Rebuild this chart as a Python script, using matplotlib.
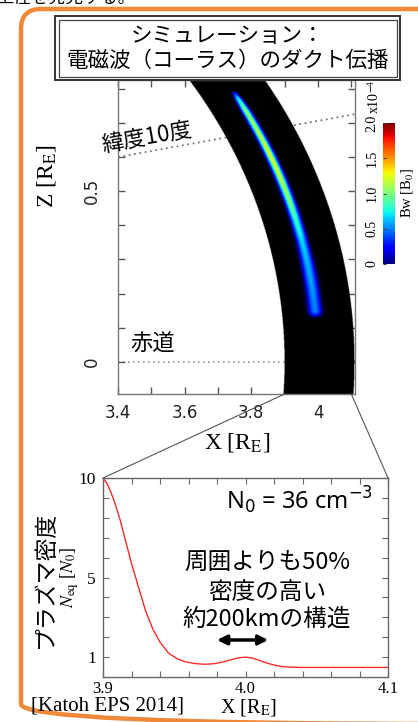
import numpy as np
import matplotlib
matplotlib.use('Agg')
import matplotlib.pyplot as plt
from matplotlib.patches import Rectangle, FancyBboxPatch, ConnectionPatch
from matplotlib.colors import Normalize
from matplotlib.cm import ScalarMappable
from matplotlib.ticker import MultipleLocator

# ---------------- data ----------------
duct_L_inner = 3.9
duct_L_outer = 4.11
wave_L_center = 4.0
wave_lat_deg = [1.8, 2.1, 3.0, 4.0, 5.0, 6.0, 7.0, 8.0, 9.0, 10.0, 11.0, 11.6, 12.0]
wave_amp = [0.0, 0.5, 0.55, 0.6, 0.68, 0.85, 1.05, 1.2, 1.25, 1.15, 1.05, 0.75, 0.0]   # x1e-4 B0
wave_halfwidth = [0.019, 0.019, 0.018, 0.017, 0.015, 0.014, 0.013, 0.0125, 0.012, 0.0115, 0.011, 0.009, 0.007]
latitude_line_deg = 10.0

top_xlim = (3.4, 4.111)
top_ylim = (-0.094, 0.825)
top_xticks = [3.4, 3.6, 3.8, 4.0]
top_xticklabels = ['3.4', '3.6', '3.8', '4']
top_yticks = [0.0, 0.5]
top_yticklabels = ['0', '0.5']

cbar_range = (0.0, 2.0)
cbar_ticks = [0.0, 0.5, 1.0, 1.5, 2.0]
cbar_ticklabels = ['0', '0.5', '1.0', '1.5', '2.0']

density_x = [3.900, 3.903, 3.906, 3.909, 3.912, 3.916, 3.920, 3.925, 3.930, 3.935,
             3.940, 3.946, 3.952, 3.958, 3.965, 3.972, 3.978, 3.984, 3.990, 3.995,
             4.000, 4.005, 4.010, 4.015, 4.020, 4.025, 4.030, 4.040, 4.060, 4.080, 4.100]
density_y = [10.0, 9.7, 9.2, 8.6, 7.9, 6.8, 5.7, 4.5, 3.3, 2.4,
             1.75, 1.2, 0.92, 0.76, 0.67, 0.64, 0.67, 0.75, 0.87, 0.96,
             1.0, 0.95, 0.83, 0.7, 0.6, 0.53, 0.5, 0.48, 0.48, 0.48, 0.48]
bottom_xticks = [3.9, 4.0, 4.1]
bottom_xticklabels = ['3.9', '4.0', '4.1']
bottom_yticks = [1, 5, 10]
bottom_yticklabels = ['1', '5', '10']
arrow_x = [3.98, 4.016]
arrow_y = 1.86

jp = ['Noto Sans CJK JP', 'DejaVu Sans']
serif = 'Liberation Serif'

W, H = 418, 722
fig = plt.figure(figsize=(W / 100, H / 100), dpi=100)
fig.patch.set_facecolor('white')


def rect(l, t, r, b):
    return [l / W, 1 - b / H, (r - l) / W, (b - t) / H]


# ---------------- top panel ----------------
ax1 = fig.add_axes(rect(118, 80, 355, 394))
ax1.set_xlim(*top_xlim)
ax1.set_ylim(*top_ylim)

nx, nz = 700, 900
xs = np.linspace(top_xlim[0], top_xlim[1], nx)
zs = np.linspace(top_ylim[0], top_ylim[1], nz)
X, Z = np.meshgrid(xs, zs)
lam = np.arctan2(Z, X)
Lval = np.hypot(X, Z) / np.cos(lam) ** 2
latd = np.degrees(lam)
amp = np.interp(latd, wave_lat_deg, wave_amp, left=0, right=0)
wid = np.interp(latd, wave_lat_deg, wave_halfwidth)
A = amp * np.exp(-((Lval - wave_L_center) / wid) ** 2)
cmap = plt.get_cmap('jet')
norm = Normalize(*cbar_range)
rgba = cmap(norm(A))
f = np.clip(A / 0.25, 0, 1)[..., None]
rgba[..., :3] = rgba[..., :3] * f
rgba[..., 3] = ((Lval >= duct_L_inner) & (Lval <= duct_L_outer)).astype(float)
ax1.imshow(rgba, origin='lower', extent=[*top_xlim, *top_ylim], aspect='auto',
           interpolation='bilinear', zorder=2)

xl = np.array(top_xlim)
ax1.plot(xl, np.tan(np.radians(latitude_line_deg)) * xl, ls=(0, (1, 2)),
         color='#777777', lw=1.3, zorder=1)
ax1.plot(xl, [0, 0], ls=(0, (1, 2)), color='#999999', lw=1.2, zorder=1)

ax1.set_xticks(top_xticks)
ax1.set_xticklabels(top_xticklabels, family='DejaVu Sans', fontsize=12, color='#222')
ax1.set_yticks(top_yticks)
ax1.set_yticklabels(top_yticklabels, family='DejaVu Sans', fontsize=12, color='#222',
                    rotation=90, va='center')
ax1.xaxis.set_minor_locator(MultipleLocator(0.1))
ax1.yaxis.set_minor_locator(MultipleLocator(0.1))
ax1.tick_params(which='both', direction='in', top=True, right=True, length=5,
                color='#555', width=1)
ax1.tick_params(axis='x', pad=7)
ax1.tick_params(axis='y', pad=12)
for s in ax1.spines.values():
    s.set_color('#777')
    s.set_linewidth(1)

# colorbar
cax = fig.add_axes(rect(383, 123, 395, 264))
cb = fig.colorbar(ScalarMappable(norm=norm, cmap=cmap), cax=cax)
cb.outline.set_visible(False)
cax.yaxis.set_ticks_position('left')
cb.set_ticks(cbar_ticks)
cax.set_yticklabels(cbar_ticklabels, family=serif, fontsize=10, rotation=90, va='center')
cax.tick_params(direction='in', length=2, color='#444', pad=3)

# ---------------- bottom panel ----------------
ax2 = fig.add_axes(rect(103, 478, 388, 677))
ax2.plot(density_x, density_y, color='#ff2a2a', lw=1.0)
ax2.set_xlim(3.9, 4.1)
ax2.set_ylim(0, 10)
ax2.set_xticks(bottom_xticks)
ax2.set_xticklabels(bottom_xticklabels, family=serif, fontsize=12)
ax2.set_yticks(bottom_yticks)
ax2.set_yticklabels(bottom_yticklabels, family=serif, fontsize=12.5)
ax2.xaxis.set_minor_locator(MultipleLocator(0.02))
ax2.yaxis.set_minor_locator(MultipleLocator(1))
ax2.tick_params(which='both', direction='in', top=True, right=True, length=4,
                color='#666', width=0.8)
ax2.tick_params(axis='x', pad=3)
ax2.tick_params(axis='y', pad=5)
for s in ax2.spines.values():
    s.set_color('#666')
    s.set_linewidth(1)

ax2.annotate('', xy=(arrow_x[1], arrow_y), xytext=(arrow_x[0], arrow_y),
             arrowprops=dict(arrowstyle='<|-|>', color='black', lw=2.5,
                             mutation_scale=14, shrinkA=0, shrinkB=0))
ax2.text(0.69, 0.889, r'N$_0$ = 36 cm$^{-3}$', transform=ax2.transAxes, ha='center',
         va='center', fontsize=17, family='Noto Sans', math_fontfamily='dejavusans')
for txt, yy in [('周囲よりも50%', 0.576), ('密度の高い', 0.424), ('約200kmの構造', 0.288)]:
    ax2.text(0.575, yy, txt, transform=ax2.transAxes, ha='center', va='center',
             fontsize=17, family=jp)

# connecting lines
for xv in (3.9, 4.1):
    con = ConnectionPatch(xyA=(xv, top_ylim[0]), coordsA=ax1.transData,
                          xyB=(xv, 10), coordsB=ax2.transData, color='#555', lw=0.8)
    fig.add_artist(con)

# ---------------- overlay ----------------
ov = fig.add_axes([0, 0, 1, 1], zorder=10)
ov.set_xlim(0, W)
ov.set_ylim(H, 0)
ov.axis('off')

ov.add_patch(FancyBboxPatch((21, 9), 460, 715, boxstyle='round,pad=0,rounding_size=20',
                            fc='none', ec='#F0883A', lw=3.2))
ov.text(-4, 7, '上性を発見する。', fontsize=12.5, family=jp, ha='left', va='bottom')

ov.add_patch(Rectangle((55, 16), 345, 64, fc='white', ec='#333', lw=1.4))
ov.add_patch(Rectangle((58.5, 19.5), 338, 57, fc='none', ec='#444', lw=0.9))
ov.text(227, 36, 'シミュレーション：', fontsize=15.5, family=jp, ha='center', va='center')
ov.text(228, 61, '電磁波（コーラス）のダクト伝播', fontsize=15.5, family=jp,
        ha='center', va='center')

ov.text(147, 138, '緯度10度', fontsize=16, family=jp, ha='center', va='center', rotation=10)
ov.text(153, 344, '赤道', fontsize=16, family=jp, ha='center', va='center')

ov.text(237, 443, r'X [R$_\mathrm{E}$]', fontsize=17, family=serif, ha='center',
        va='center', math_fontfamily='stix')
ov.text(46, 176, r'Z [R$_\mathrm{E}$]', fontsize=17, family=serif, ha='center',
        va='center', rotation=90, math_fontfamily='stix')

ov.text(374, 97, r'x10$^{-4}$', fontsize=10, family=serif, ha='center', va='center',
        rotation=90, math_fontfamily='stix')
ov.text(407, 193, r'Bw [B$_0$]', fontsize=10.5, family=serif, ha='center', va='center',
        rotation=90, math_fontfamily='stix')

ov.text(46, 580, 'プラズマ密度', fontsize=16.5, family=jp, ha='center', va='center',
        rotation=90)
ov.text(70, 577, r'$N_\mathrm{eq}$ [$N_0$]', fontsize=13, family=serif, ha='center',
        va='center', rotation=90, math_fontfamily='stix')

ov.text(31, 706, '[Katoh EPS 2014]', fontsize=15, family=serif, ha='left', va='center')
ov.text(248, 708, r'X [R$_\mathrm{E}$]', fontsize=14.5, family=serif, ha='center',
        va='center', math_fontfamily='stix')

fig.savefig('out.png', dpi=100, facecolor='white')
